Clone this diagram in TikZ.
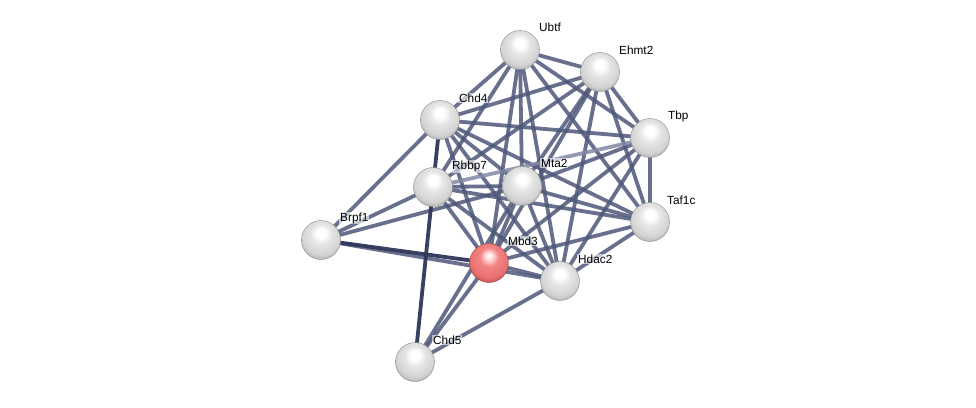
\documentclass[tikz,border=0pt]{standalone}
\usepackage{fontspec}
\setmainfont{Liberation Sans}
\pgfdeclareradialshading{greyball}{\pgfpoint{0bp}{10bp}}{color(0bp)=(white); color(6bp)=(white); color(13bp)=(black!10); color(24bp)=(black!17); color(31bp)=(black!32); color(35bp)=(black!52); color(50bp)=(black!52)}
\pgfdeclareradialshading{redball}{\pgfpoint{0bp}{10bp}}{color(0bp)=(white); color(5bp)=(red!15); color(12bp)=(red!45!white!95!black); color(24bp)=(red!52!white!92!black); color(31bp)=(red!60!black!70!white); color(35bp)=(red!50!black); color(50bp)=(red!50!black)}
\begin{document}
\begin{tikzpicture}[x=1pt,y=-1pt,
  prot/.style={circle,minimum size=39pt,inner sep=0pt,shading=greyball,draw=black!45,line width=0.4pt},
  seed/.style={circle,minimum size=39pt,inner sep=0pt,shading=redball,draw=red!40!black!70,line width=0.4pt},
  lab/.style={anchor=west,font=\fontsize{11.8}{13}\selectfont,inner sep=1pt,fill=white,fill opacity=0.6,text opacity=1},
  ed/.style={draw=edgec,line width=3.8pt,opacity=0.85},
  edl/.style={draw=edgel,line width=3.8pt,opacity=0.85},
  edd/.style={draw=edged,line width=3.8pt,opacity=0.95}]
\definecolor{edgec}{HTML}{4D5779}
\definecolor{edgel}{HTML}{8088A4}
\definecolor{edged}{HTML}{2E365A}
\useasboundingbox (0,0) rectangle (976,407);
\coordinate (Ubtf) at (520,50);
\coordinate (Ehmt2) at (600,72);
\coordinate (Chd4) at (440,120);
\coordinate (Tbp) at (650,138);
\coordinate (Rbbp7) at (433,187);
\coordinate (Mta2) at (522,186);
\coordinate (Taf1c) at (650,222);
\coordinate (Brpf1) at (321,240);
\coordinate (Mbd3) at (489,263);
\coordinate (Hdac2) at (560,281);
\coordinate (Chd5) at (415,362);
% edges
\foreach \a/\b in {Ubtf/Ehmt2,Ubtf/Chd4,Ubtf/Tbp,Ubtf/Rbbp7,Ubtf/Mta2,Ubtf/Mbd3,Ubtf/Hdac2,Ubtf/Taf1c,
  Ehmt2/Chd4,Ehmt2/Tbp,Ehmt2/Taf1c,Ehmt2/Rbbp7,Ehmt2/Mta2,Ehmt2/Mbd3,Ehmt2/Hdac2,
  Chd4/Tbp,Chd4/Mta2,Chd4/Mbd3,Chd4/Hdac2,Chd4/Taf1c,Chd4/Brpf1,
  Tbp/Taf1c,Tbp/Mta2,Tbp/Mbd3,Tbp/Hdac2,
  Taf1c/Rbbp7,Taf1c/Mta2,Taf1c/Mbd3,Taf1c/Hdac2,
  Rbbp7/Mta2,Rbbp7/Mbd3,Rbbp7/Hdac2,Rbbp7/Brpf1,
  Mta2/Mbd3,Mta2/Hdac2,Mta2/Brpf1,Mta2/Chd5,
  Mbd3/Hdac2,Mbd3/Chd5,Brpf1/Hdac2,Hdac2/Chd5}
  \draw[ed] (\a) -- (\b);
\foreach \a/\b in {Tbp/Rbbp7}
  \draw[edl] (\a) -- (\b);
\foreach \a/\b in {Chd4/Rbbp7,Rbbp7/Chd5,Brpf1/Mbd3}
  \draw[edd] (\a) -- (\b);
% nodes
\foreach \n in {Ubtf,Ehmt2,Chd4,Tbp,Rbbp7,Mta2,Taf1c,Brpf1,Hdac2,Chd5}
  \node[prot] (n\n) at (\n) {};
\node[seed] (nMbd3) at (Mbd3) {};
% labels
\node[lab] (lUbtf) at (538,27) {Ubtf};
\node[lab] (lEhmt2) at (618,50) {Ehmt2};
\node[lab] (lChd4) at (458,98) {Chd4};
\node[lab] (lTbp) at (667,116) {Tbp};
\node[lab] (lRbbp7) at (451,166) {Rbbp7};
\node[lab] (lMta2) at (540,163) {Mta2};
\node[lab] (lTaf1c) at (666,200) {Taf1c};
\node[lab] (lBrpf1) at (339,218) {Brpf1};
\node[lab] (lMbd3) at (507,241) {Mbd3};
\node[lab] (lHdac2) at (577,259) {Hdac2};
\node[lab] (lChd5) at (432,340) {Chd5};
\end{tikzpicture}
\end{document}
